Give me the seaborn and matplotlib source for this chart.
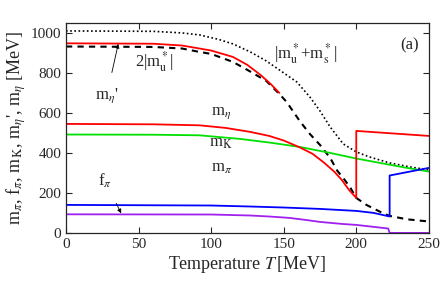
import numpy as np
import pandas as pd
import matplotlib
matplotlib.use("Agg")
import matplotlib.pyplot as plt
import seaborn as sns

# temperature grid (MeV) and curves
T_etap = [0, 60, 80, 92, 100, 115, 125, 134, 141, 147]
m_etap = [948, 946, 937, 922, 912, 880, 840, 790, 745, 700]

T_mu = [0, 60, 80, 92, 100, 115, 125, 138, 147, 152, 161, 168, 175, 182, 187,
        191, 196, 200, 207, 218, 223, 235, 250]
two_mu = [932, 930, 922, 905, 895, 855, 815, 760, 695, 655, 560, 495, 440, 375,
          310, 275, 225, 175, 140, 100, 85, 68, 57]

T_mums = [0, 60, 80, 92, 105, 115, 127, 138, 150, 159, 168, 175, 182, 191, 200,
          209, 223, 237, 250]
mu_ms = [1010, 1008, 1000, 990, 968, 945, 905, 860, 800, 755, 680, 610, 530, 445,
         405, 380, 350, 330, 315]

T_eta = [0, 60, 92, 110, 127, 140, 150, 161, 170, 178, 185, 190, 195, 200, 200, 250]
m_eta = [545, 543, 538, 525, 505, 485, 462, 428, 395, 350, 305, 265, 215, 175, 510, 485]

T_K = [0, 60, 92, 120, 140, 161, 182, 200, 220, 235, 250]
m_K = [492, 491, 488, 470, 452, 430, 400, 372, 345, 325, 307]

T_pi = [0, 100, 127, 150, 175, 200, 212, 223, 223, 250]
m_pi = [140, 137, 132, 127, 120, 110, 100, 82, 287, 325]

T_fpi = [0, 100, 127, 140, 154, 165, 175, 190, 200, 222, 223, 250]
f_pi = [93, 92, 87, 82, 75, 65, 55, 45, 40, 22, 0, 0]

sns.set_style("ticks")
plt.rcParams["font.family"] = ["Liberation Serif", "DejaVu Serif"]
plt.rcParams["mathtext.fontset"] = "stix"

fig = plt.figure(figsize=(4.43, 2.83), dpi=100)
ax = fig.add_axes([0.149, 0.177, 0.819, 0.742])

def draw(x, y, color, ls="-", lw=1.3):
    df = pd.DataFrame({"T": x, "m": y})
    sns.lineplot(data=df, x="T", y="m", ax=ax, color=color, linestyle=ls,
                 linewidth=lw, sort=False, estimator=None)

draw(T_mums, mu_ms, "black", ls=(0, (1, 1.5)), lw=1.2)
draw(T_mu, two_mu, "black", ls=(0, (3, 2.5)), lw=1.5)
draw(T_etap, m_etap, "#ff0000")
draw(T_K, m_K, "#00e000")
draw(T_eta, m_eta, "#ff0000")
draw(T_fpi, f_pi, "#a020f0")
draw(T_pi, m_pi, "#0000ff")

ax.set_xlim(0, 250)
ax.set_ylim(0, 1050)
ax.set_xticks([0, 50, 100, 150, 200, 250])
ax.set_yticks([0, 200, 400, 600, 800, 1000])
ax.tick_params(direction="in", top=True, right=True, labelsize=11, length=4, width=0.8)
for s in ax.spines.values():
    s.set_linewidth(0.9)

ax.set_xlabel(r"Temperature $T\,$[MeV]", fontsize=13, labelpad=2)
ax.set_ylabel(r"m$_\pi$, f$_\pi$, m$_{\rm K}$, m$_{\eta}$', m$_\eta$ [MeV]",
              fontsize=13, labelpad=2)

fs = 12
ax.text(237, 940, "(a)", fontsize=fs, ha="center", va="center")
ax.text(165, 895, r"|m$^*_{\rm u}$+m$^*_{\rm s}$|", fontsize=fs, ha="center", va="center")
ax.text(61, 855, r"2|m$^*_{\rm u}$|", fontsize=fs, ha="center", va="center")
ax.text(107, 600, r"m$_\eta$", fontsize=fs, ha="center", va="center")
ax.text(107, 450, r"m$_{\rm K}$", fontsize=fs, ha="center", va="center")
ax.text(107, 325, r"m$_\pi$", fontsize=fs, ha="center", va="center")
ax.annotate(r"m$_{\eta}$'", xy=(36, 945), xytext=(28, 685), fontsize=fs,
            ha="center", va="center",
            arrowprops=dict(arrowstyle="-|>", color="black", lw=0.6,
                            mutation_scale=6, shrinkA=8, shrinkB=0))
ax.annotate(r"f$_\pi$", xy=(38, 98), xytext=(27, 260), fontsize=fs,
            ha="center", va="center",
            arrowprops=dict(arrowstyle="-|>", color="black", lw=0.6,
                            mutation_scale=6, shrinkA=8, shrinkB=0))

fig.savefig("out.png", dpi=100)
